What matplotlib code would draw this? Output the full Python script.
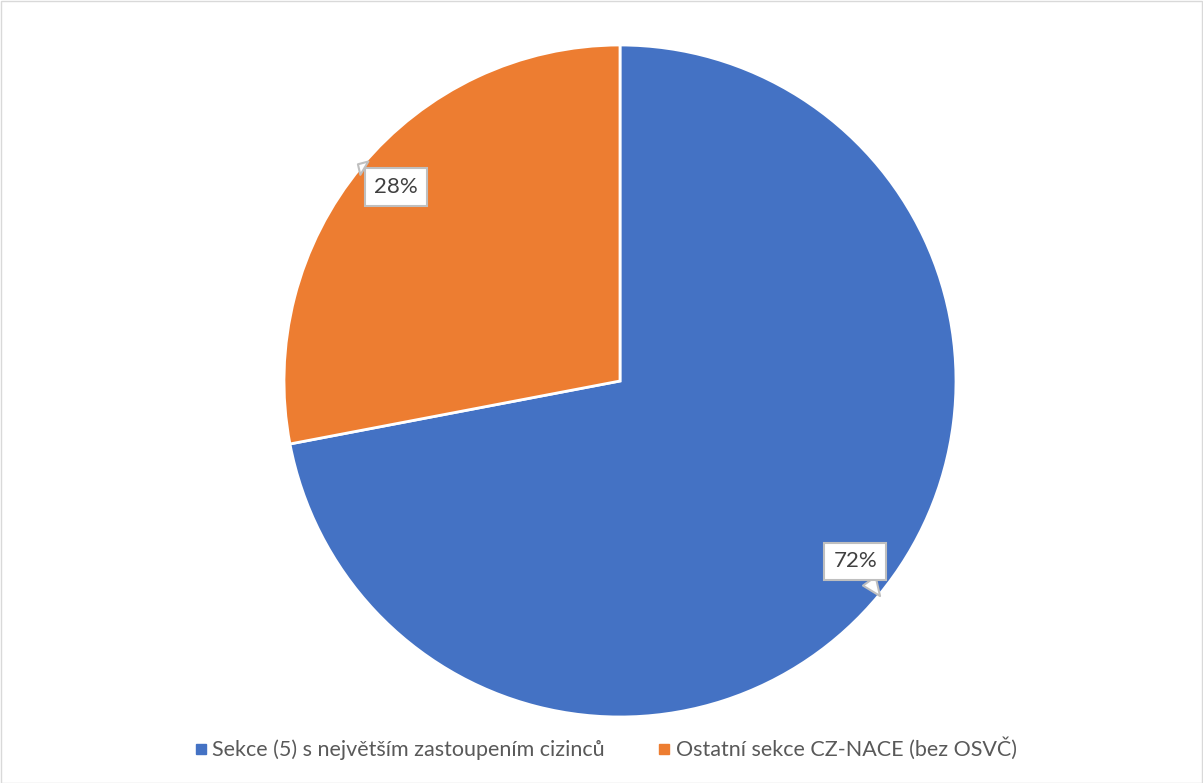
import matplotlib.pyplot as plt
from matplotlib.patches import Rectangle

labels = ["Sekce (5) s největším zastoupením cizinců", "Ostatní sekce CZ-NACE (bez OSVČ)"]
shares = [72, 28]
colors = ["#4472c4", "#ed7d31"]

plt.rcParams['font.family'] = ['Lato', 'DejaVu Sans']

W, H = 1203, 783
fig = plt.figure(figsize=(W / 100, H / 100), dpi=100)
fig.patches.append(Rectangle((0.5 / W, 0.5 / H), 1 - 1.5 / W, 1 - 1.5 / H, transform=fig.transFigure,
                             fill=False, edgecolor="#d9d9d9", linewidth=1))

cx, cy, r = 620, 381, 336
ax = fig.add_axes([(cx - r) / W, (H - cy - r) / H, 2 * r / W, 2 * r / H])
wedges, _ = ax.pie(shares, colors=colors, startangle=90, counterclock=False,
                   wedgeprops=dict(edgecolor="white", linewidth=2))
ax.set_xlim(-1, 1)
ax.set_ylim(-1, 1)
ax.set_aspect("equal")
ax.axis("off")

# callout labels (text position, pointer tip) in axes data units
label_pos = [(0.70, -0.537), (-0.667, 0.577)]
tips = [(0.774, -0.64), (-0.78, 0.645)]
for share, pos, tip in zip(shares, label_pos, tips):
    ax.annotate(f"{share}%", xy=tip, xytext=pos, ha="center", va="center", fontsize=16, color="#404040",
                bbox=dict(boxstyle="square,pad=0.4", fc="white", ec="#bfbfbf", lw=1.5),
                arrowprops=dict(arrowstyle="wedge,tail_width=0.7", fc="white", ec="#bfbfbf", lw=1.5,
                                shrinkA=0, shrinkB=0),
                annotation_clip=False)

handles = [plt.Line2D([], [], marker="s", linestyle="", markersize=7, color=c) for c in colors]
fig.legend(handles, labels, loc="center", bbox_to_anchor=(0.503, 1 - 749 / H), ncol=2, frameon=False,
           fontsize=15.5, labelcolor="#595959", handletextpad=0.2, columnspacing=2.4, handlelength=0.7)

fig.savefig("out.png", dpi=100)
